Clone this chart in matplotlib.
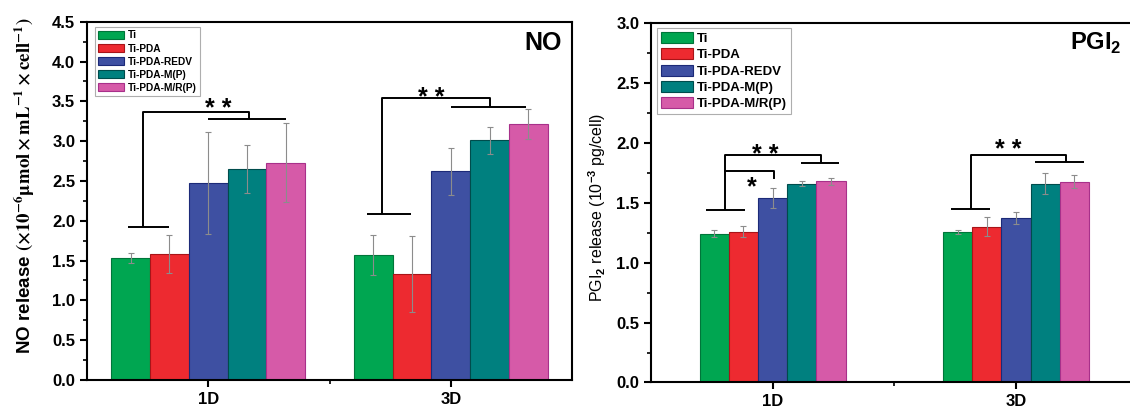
import numpy as np
import matplotlib
matplotlib.use('Agg')
import matplotlib.pyplot as plt
from matplotlib.patches import Patch
from matplotlib.ticker import MultipleLocator, FixedLocator

plt.rcParams['font.family'] = ['Liberation Sans', 'DejaVu Sans']
plt.rcParams['font.weight'] = 'bold'
plt.rcParams['mathtext.fontset'] = 'custom'
plt.rcParams['mathtext.rm'] = 'Liberation Sans'
plt.rcParams['mathtext.bf'] = 'Liberation Sans:bold'

# Daten
days = ['1D', '3D']
samples = ['Ti', 'Ti-PDA', 'Ti-PDA-REDV', 'Ti-PDA-M(P)', 'Ti-PDA-M/R(P)']
colors = ['#00a651', '#ed2a30', '#3e50a2', '#00807f', '#d65aa8']
edges = ['#00753a', '#a81418', '#1c2a78', '#004c4c', '#a8308a']

no_1d = [1.53, 1.58, 2.47, 2.65, 2.73]
no_1d_err = [0.06, 0.24, 0.64, 0.30, 0.50]
no_3d = [1.57, 1.33, 2.62, 3.01, 3.22]
no_3d_err = [0.25, 0.48, 0.30, 0.17, 0.19]

pgi_1d = [1.24, 1.26, 1.54, 1.66, 1.68]
pgi_1d_err = [0.03, 0.05, 0.08, 0.02, 0.03]
pgi_3d = [1.255, 1.30, 1.37, 1.66, 1.675]
pgi_3d_err = [0.015, 0.08, 0.05, 0.09, 0.055]

# Signifikanz-Klammern: (x0, x1, y_unten, x_senkrecht, y_oben, x_ende, y_rechts, xr0, xr1, text_x, text_y, text)
no_brackets = [
    (0.667, 0.84, 1.92, 0.731, 3.37, 1.167, 3.28, 1.0, 1.322, 1.04, 3.50, '**'),
    (1.654, 1.835, 2.09, 1.718, 3.54, 2.16, 3.43, 2.0, 2.31, 1.92, 3.63, '**'),
]
pgi_brackets = [
    (0.725, 0.886, 1.44, 0.805, 1.895, 1.198, 1.83, 1.115, 1.272, 0.97, 1.957, '**'),
    (1.732, 1.894, 1.45, 1.814, 1.90, 2.204, 1.837, 2.08, 2.28, 1.97, 2.00, '**'),
]


def draw_panel(ax, vals_1d, err_1d, vals_3d, err_3d, bar_w, ymax, leg_fs, leg_anchor, leg_hl, leg_sp):
    x = np.arange(1, len(days) + 1)
    n = len(samples)
    for i in range(n):
        pos = x + (i - (n - 1) / 2) * bar_w
        ax.bar(pos, [vals_1d[i], vals_3d[i]], bar_w, yerr=[err_1d[i], err_3d[i]],
               color=colors[i], edgecolor=edges[i], linewidth=0.8, capsize=2.5,
               error_kw=dict(ecolor='#8c8c8c', elinewidth=0.8, capthick=0.8), zorder=2)
    ax.set_xlim(0.5, 2.5)
    ax.set_ylim(0, ymax)
    ax.xaxis.set_major_locator(FixedLocator(x))
    ax.xaxis.set_minor_locator(FixedLocator([1.5]))
    ax.set_xticklabels(days)
    ax.yaxis.set_major_locator(MultipleLocator(0.5))
    ax.yaxis.set_minor_locator(MultipleLocator(0.25))
    ax.tick_params(which='both', direction='out', top=False, right=False, labelsize=12, width=1.5)
    ax.tick_params(which='major', length=5)
    ax.tick_params(which='minor', length=3, width=1.2)
    for s in ax.spines.values():
        s.set_linewidth(1.5)
    handles = [Patch(facecolor=colors[i], edgecolor=edges[i], linewidth=0.8) for i in range(n)]
    leg = ax.legend(handles, samples, loc='upper left', bbox_to_anchor=leg_anchor, borderaxespad=0,
                    fontsize=leg_fs, frameon=True, fancybox=False, labelspacing=leg_sp,
                    handlelength=leg_hl, handleheight=0.9, handletextpad=0.35, borderpad=0.3)
    leg.get_frame().set_edgecolor('#9a9a9a')
    leg.get_frame().set_linewidth(0.8)


def draw_brackets(ax, brackets, star_off):
    for b in brackets:
        x0, x1, y0, xv, yt, xe, yr, xr0, xr1, tx, ty, txt = b
        kw = dict(color='black', lw=1.4, solid_capstyle='butt')
        ax.plot([x0, x1], [y0, y0], **kw)
        ax.plot([xv, xv, xe, xe], [y0, yt, yt, yr], **kw)
        ax.plot([xr0, xr1], [yr, yr], **kw)
        ax.text(tx, ty - star_off, txt.replace('**', '* *'), ha='center', va='baseline',
                fontsize=18, fontweight='bold')


fig = plt.figure(figsize=(11.3, 4.09), dpi=100)
ax1 = fig.add_axes([0.0770, 0.0709, 0.4292, 0.876])
ax2 = fig.add_axes([0.5761, 0.0648, 0.4306, 0.879])

# NO
draw_panel(ax1, no_1d, no_1d_err, no_3d, no_3d_err, 0.16, 4.5, 7.3, (0.0165, 0.984), 2.6, 0.3)
draw_brackets(ax1, no_brackets, 0.18)
ax1.set_ylabel(r'NO release $(\times10^{-6}\mathbf{\mu mol}\times\mathbf{mL^{-1}}\times\mathbf{cell^{-1}})$',
               fontsize=13.5, fontweight='bold', va='center', math_fontfamily='stix')
ax1.yaxis.set_label_coords(-0.128, 0.541)
ax1.text(0.979, 0.94, 'NO', transform=ax1.transAxes, ha='right', va='center',
         fontsize=18, fontweight='bold', family='Liberation Sans')

# PGI2
draw_panel(ax2, pgi_1d, pgi_1d_err, pgi_3d, pgi_3d_err, 0.12, 3.0, 9.5, (0.0123, 0.986), 2.4, 0.25)
draw_brackets(ax2, pgi_brackets, 0.12)
ax2.plot([0.805, 1.006, 1.006], [1.767, 1.767, 1.706], color='black', lw=1.4)
ax2.text(0.916, 1.69 - 0.12, '*', ha='center', va='baseline', fontsize=18, fontweight='bold')
ax2.set_ylabel(r'PGI$_2$ release (10$^{-3}$ pg/cell)', fontsize=11.5, fontweight='normal', va='center')
ax2.yaxis.set_label_coords(-0.111, 0.487)
ax2.text(0.968, 0.944, r'PGI$_\mathbf{2}$', transform=ax2.transAxes, ha='right', va='center',
         fontsize=17, fontweight='bold')

fig.savefig('out.png', dpi=100)
